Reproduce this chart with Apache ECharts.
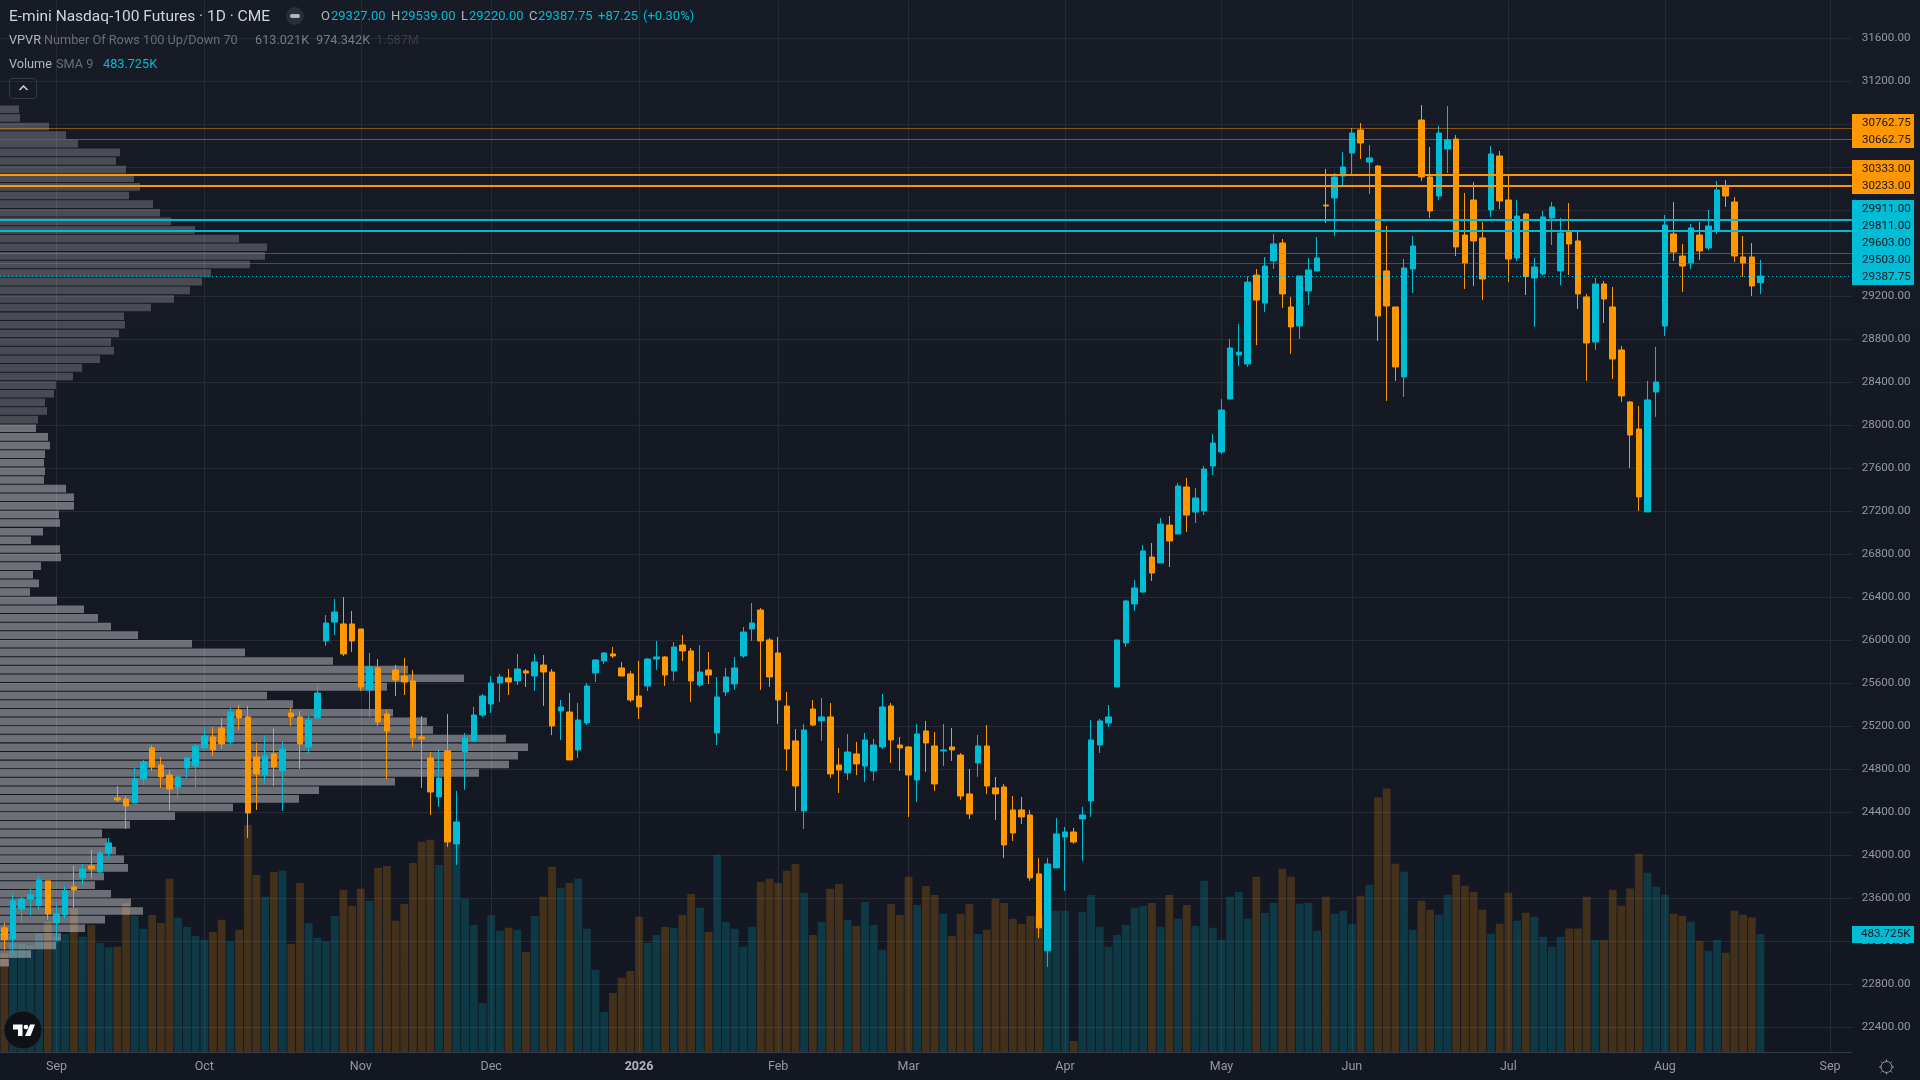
<!DOCTYPE html>
<html><head><meta charset="utf-8">
<style>html,body{margin:0;padding:0;background:#131722;overflow:hidden}#c{width:1920px;height:1080px}</style>
<script src="https://cdn.jsdelivr.net/npm/echarts@6/dist/echarts.min.js"></script>
</head><body><div id="c"></div>
<script>
const opens=[23325,23222,23501,23594,23535,23762,23371,23445,23706,23790,
23901,23845,24022,24534,24524,24487,24710,24999,24840,24747,
24636,24813,24831,24999,25101,25185,25054,25352,25287,24915,
24747,24943,24785,25324,25287,25008,25278,25994,26170,26152,
26152,26105,25538,25743,25315,25724,25668,25622,25101,24906,
24543,24971,24106,24961,25064,25305,25408,25603,25650,25622,
25715,25668,25770,25705,25343,25333,24980,25231,25696,25808,
25873,25743,25687,25482,25575,25826,25845,25715,25956,25901,
25584,25724,25138,25519,25594,25854,26105,26282,26003,25882,
25389,25064,24413,25361,25250,25287,24840,24766,24943,24831,
24785,25008,25389,25026,25008,24701,25157,25017,24971,25008,
24933,24571,24859,25017,24627,24636,24422,24422,24375,23827,
23111,23883,24171,24217,24338,24506,25026,25231,25566,25975,
26338,26449,26775,26719,27072,26989,27426,27193,27203,27621,
27751,28244,28653,28570,29397,29137,29529,29696,29101,28924,
29250,29436,30049,30115,30319,30533,30747,30449,30412,29436,
29101,28450,29454,30840,30310,30133,30570,30663,29770,30096,
29743,30003,30505,30096,29557,29966,29371,29408,29929,29436,
29808,29715,29194,28775,29315,29101,28701,28217,27966,27194,
28310,28924,29780,29575,29510,29770,29650,29817,30217,30077,29566,29566,29327];
const closes=[23216,23576,23594,23631,23771,23455,23455,23669,23678,23873,
23873,24022,24115,24515,24459,24710,24868,24822,24729,24617,
24729,24906,25017,25110,24980,25036,25333,25278,24394,24757,
24924,24822,24989,25287,25036,25259,25510,26161,26263,25873,
25994,25566,25752,25240,25157,25631,25612,25092,25082,24589,
24720,24124,24310,25092,25305,25482,25603,25659,25612,25733,
25696,25798,25705,25203,25380,24887,25259,25575,25817,25882,
25854,25668,25445,25380,25826,25845,25677,25938,25901,25622,
25705,25677,25473,25659,25743,26077,26161,25994,25659,25445,
24989,24645,25166,25212,25287,24757,24794,24961,24850,25073,
25026,25380,25073,24999,24747,25129,25045,24664,24980,24980,
24552,24385,25017,24645,24571,24096,24208,24357,23790,23325,
23920,24199,24217,24124,24375,25073,25250,25287,26003,26366,
26487,26831,26626,27082,26924,27435,27165,27324,27593,27835,
28142,28719,28681,29332,29165,29481,29687,29222,28915,29389,
29445,29557,30040,30310,30403,30719,30626,30487,29017,29110,
28543,29464,29668,30310,29994,30719,30654,29659,29510,29715,
29361,30524,30087,29547,29947,29383,29473,29938,30031,29789,
29687,29222,28766,29315,29175,28617,28273,27910,27334,28236,
28403,29863,29612,29482,29836,29622,29854,30189,30133,29575,29510,29296,29387.75];
const highs=[23371,23650,23613,23687,23808,23762,23529,23715,23901,23920,
24050,24050,24162,24645,24552,24822,24887,25026,24915,24794,
24747,24915,25036,25185,25194,25278,25371,25398,25389,25045,
25119,25185,25054,25371,25343,25296,25575,26235,26384,26403,
26273,26105,25882,25826,25352,25771,25836,25724,25296,24961,
24989,25315,24599,25138,25380,25501,25668,25687,25733,25873,
25733,25873,25863,25733,25445,25510,25417,25603,25826,25891,
25938,25798,25715,25808,25836,25994,25854,25984,26049,25929,
25956,25891,25659,25743,25845,26124,26347,26301,26022,26031,
25519,25175,25222,25445,25464,25417,24999,25129,25054,25138,
25082,25501,25417,25101,25017,25222,25250,25147,25222,25185,
24952,24803,25119,25212,24729,24664,24552,24543,24422,23976,
23976,24348,24264,24255,24450,25259,25268,25398,26003,26375,
26561,26886,26905,27138,27156,27463,27510,27417,27621,27919,
28244,28802,28942,29388,29453,29565,29780,29733,29194,29389,
29557,29752,30384,30347,30542,30766,30812,30607,30421,29854,
29101,29547,29761,30979,30589,30784,30970,30700,30161,30263,
29891,30598,30552,30319,30096,29975,29557,29994,30077,29929,
30068,29798,29222,29371,29343,29287,28738,28227,28180,28413,
28729,29956,30077,29687,29873,29891,30003,30273,30282,30124,29761,29696,29539];
const lows=[23120,23086,23374,23439,23492,23399,23204,23408,23511,23724,
23790,23836,23966,24496,24245,24487,24654,24785,24627,24422,
24524,24720,24636,24999,24924,24989,25026,25166,24162,24422,
24664,24645,24413,25203,24803,24943,25278,25947,26049,25854,
25891,25529,25287,25203,24710,25482,25491,25008,24627,24375,
24450,24078,23911,24608,25064,25287,25324,25426,25491,25584,
25566,25529,25389,25119,25073,24887,24906,25212,25612,25780,
25836,25668,25426,25268,25529,25724,25575,25622,25808,25426,
25566,25594,25026,25482,25538,25836,25994,25538,25566,25222,
24785,24413,24245,25203,25064,24720,24580,24701,24747,24682,
24692,24989,24859,24785,24357,24496,24775,24599,24831,24878,
24515,24338,24729,24571,24329,23976,24134,24292,23762,23232,
22962,23883,23669,24106,23948,24357,24952,25194,25566,25938,
26273,26440,26552,26719,26682,26989,27007,27091,27165,27537,
27733,28244,28551,28542,28746,29053,29454,29092,28664,28803,
29119,29436,29882,29761,30217,30319,30477,30152,28785,28227,
28413,28264,29231,30273,29929,30096,30347,29575,29268,29296,
29166,29938,30012,29333,29529,29212,28915,29398,29677,29305,
29398,29082,28413,28701,28952,28431,28217,27604,27204,27194,
28078,28831,29529,29240,29454,29538,29631,29780,30031,29519,29380,29203,29220];
const volumes=[405,446,443,439,487,535,473,484,589,473,
521,447,428,431,610,558,505,562,529,710,
550,513,476,460,492,542,453,501,931,726,
636,738,743,443,693,529,468,453,558,665,
599,669,620,755,763,538,607,775,862,870,
767,993,853,628,521,201,562,497,509,501,
410,558,636,759,673,693,710,505,337,164,
242,304,332,554,447,480,513,509,562,648,
591,492,808,533,505,431,513,697,710,693,
743,771,652,480,533,669,689,542,517,615,
521,419,607,562,718,603,681,644,566,476,
566,607,484,501,628,611,546,525,558,563,
754,579,579,45,574,644,513,431,480,521,
591,599,611,513,644,546,603,517,702,509,
460,636,656,546,718,570,611,751,719,608,
612,497,637,567,579,526,641,686,1043,1080,
772,739,501,620,583,563,645,727,682,657,
583,485,526,653,538,571,555,473,432,473,
506,506,637,460,460,665,600,670,813,735,
678,645,567,559,534,456,415,460,407,579,563,551,483.725];
const profileRows=[19,20,49,66,78,120,116,126,134,140,129,153,160,171,195,239,267,265,250,211,
202,190,174,151,124,125,119,111,114,100,82,73,56,54,45,47,38,36,48,50,
45,44,45,44,66,74,74,59,60,43,31,60,61,41,33,39,30,57,84,98,
111,138,192,245,333,408,464,387,267,293,393,427,433,506,528,518,509,479,395,319,
299,233,175,130,102,107,116,124,128,104,95,111,131,143,105,85,61,56,31,9];
const valueAreaStartRow=37;
const priceTicks=[22400,22800,23200,23600,24000,24400,24800,25200,25600,26000,26400,26800,27200,27600,28000,28400,28800,29200,29600,30000,30400,30800,31200,31600];
const monthIndex=[6,23,41,56,73,89,104,122,140,155,173,191,210];
const monthLabels=['Sep','Oct','Nov','Dec','2026','Feb','Mar','Apr','May','Jun','Jul','Aug','Sep'];
const thinOrange=[30762.75,30662.75], thickOrange=[30333,30233], thickCyan=[29911,29811], thinCyan=[29603,29503];
const lastClose=29387.75;
const axisBoxes=[['30762.75','o'],['30662.75','o'],['30333.00','o'],['30233.00','o'],['29911.00','c'],['29811.00','c'],['29603.00','c'],['29503.00','c'],['29387.75','c']];
const barCount=213;

const CY='#00bcd4',OR='#ff9800',FONT='Roboto,sans-serif';
const categories=Array.from({length:barCount},(_,i)=>String(i));
const candle=opens.map((o,i)=>[o,closes[i],lows[i],highs[i]]);
const volData=volumes.map((v,i)=>({value:v,itemStyle:{color:closes[i]>opens[i]?'rgba(0,188,212,0.2)':'rgba(255,152,0,0.2)'}}));
const prof=profileRows.map((v,i)=>({value:v,itemStyle:{color:i<valueAreaStartRow?'rgba(255,255,255,0.22)':'rgba(255,255,255,0.38)'}}));
const hl=(vals,color,width,type)=>vals.map(v=>({yAxis:v,lineStyle:{color,width,type:type||'solid'}}));

function txt(x,y,s,fill,size,extra){return Object.assign({type:'text',z:50,x,y,silent:true,style:{text:s,fill,font:(size||13)+'px '+FONT,textVerticalAlign:'middle',textAlign:'left'}},extra||{});}
const boxYs=[122.7,139.7,168.7,185.7,208.7,225.7,242.7,259.7,276.7];
const gfx=[];
[[114,34,OR],[160,34,OR],[200,85,CY],[926,17,CY]].forEach(b=>gfx.push({type:'rect',z:49,silent:true,shape:{x:1852,y:b[0],width:62,height:b[1]},style:{fill:b[2]}}));
axisBoxes.forEach((b,i)=>gfx.push(txt(1862,boxYs[i],b[0],'#131722',11.6)));
gfx.push(txt(1861,934.5,'483.725K','#131722',11.6));
gfx.push(txt(9,17,'E-mini Nasdaq-100 Futures · 1D · CME','#d1d4dc',15.5));
gfx.push({type:'circle',z:50,silent:true,shape:{cx:295,cy:16,r:9},style:{fill:'#2a2e39'}});
gfx.push({type:'rect',z:51,silent:true,shape:{x:290,y:14,width:10,height:4,r:2},style:{fill:'#b2b5be'}});
[[321,'O','#b2b5be'],[331,'29327.00',CY],[391,'H','#b2b5be'],[401,'29539.00',CY],[461,'L','#b2b5be'],[469,'29220.00',CY],[529,'C','#b2b5be'],[538,'29387.75',CY],[598,'+87.25',CY],[643,'(+0.30%)',CY]].forEach(a=>gfx.push(txt(a[0],17,a[1],a[2],13)));
[[9,'VPVR','#b2b5be'],[44,'Number Of Rows 100 Up/Down 70','#6a6d78'],[255,'613.021K','#787b86'],[316,'974.342K','#787b86'],[376,'1.587M','#3a3d47']].forEach(a=>gfx.push(txt(a[0],41,a[1],a[2],12.7)));
[[9,'Volume','#b2b5be'],[56,'SMA 9','#6a6d78'],[103,'483.725K',CY]].forEach(a=>gfx.push(txt(a[0],65,a[1],a[2],12.7)));
gfx.push({type:'rect',z:50,silent:true,shape:{x:9.5,y:78.5,width:27,height:20,r:3},style:{fill:'rgba(0,0,0,0)',stroke:'#363a45',lineWidth:1}});
gfx.push({type:'polyline',z:50,silent:true,shape:{points:[[19.5,90],[23.5,86],[27.5,90]]},style:{stroke:'#d1d4dc',lineWidth:1.5,fill:'none'}});
gfx.push({type:'circle',z:50,silent:true,shape:{cx:23,cy:1030,r:19},style:{fill:'#0e1118',stroke:'#2a2e39',lineWidth:1}});
gfx.push({type:'polygon',z:51,silent:true,shape:{points:[[13,1024.5],[22.5,1024.5],[22.5,1036],[18,1036],[18,1029.5],[13,1029.5]]},style:{fill:'#fff'}});
gfx.push({type:'circle',z:51,silent:true,shape:{cx:26,cy:1027,r:2.3},style:{fill:'#fff'}});
gfx.push({type:'polygon',z:51,silent:true,shape:{points:[[30,1024.5],[35,1024.5],[30.5,1036],[25,1036]]},style:{fill:'#fff'}});
gfx.push({type:'circle',z:50,silent:true,shape:{cx:1886.5,cy:1067,r:5.5},style:{fill:'none',stroke:'#9598a1',lineWidth:1}});
[[1886.5,1059.5,1886.5,1061.5],[1886.5,1072.5,1886.5,1074.5],[1879,1067,1881,1067],[1892,1067,1894,1067],[1881,1061.5,1882.4,1062.9],[1892,1061.5,1890.6,1062.9],[1881,1072.5,1882.4,1071.1],[1892,1072.5,1890.6,1071.1]].forEach(p=>gfx.push({type:'line',z:50,silent:true,shape:{x1:p[0],y1:p[1],x2:p[2],y2:p[3]},style:{stroke:'#9598a1',lineWidth:1}}));

const option={
  animation:false,
  backgroundColor:{type:'linear',x:0,y:0,x2:0,y2:1,colorStops:[{offset:0,color:'#171b26'},{offset:1,color:'#131722'}]},
  textStyle:{fontFamily:FONT},
  grid:[{left:-1.3,top:0,width:1853.1,height:1052,containLabel:false},{left:0,top:105,width:1852,height:862}],
  xAxis:[
    {type:'category',gridIndex:0,data:categories,boundaryGap:true,
     axisLine:{show:true,lineStyle:{color:'#363a45'}},axisTick:{show:false},splitLine:{show:false},
     axisLabel:{margin:8,color:'#9598a1',fontSize:12.5,fontFamily:FONT,interval:(i)=>monthIndex.includes(i),showMinLabel:true,showMaxLabel:true,hideOverlap:false,
       formatter:(v)=>{const k=monthIndex.indexOf(+v);if(k<0)return '';return monthLabels[k]==='2026'?'{b|2026}':monthLabels[k];},
       rich:{b:{fontWeight:'bold',fontSize:12.5,color:'#b2b5be',fontFamily:FONT}}}},
    {type:'value',gridIndex:1,min:0,max:1852,show:false}
  ],
  yAxis:[
    {type:'value',gridIndex:0,position:'right',min:22170.2,max:31956.3,scale:true,
     axisLine:{show:false},
     axisTick:{show:false,customValues:priceTicks},
     axisLabel:{customValues:priceTicks,inside:false,margin:10,color:'#9598a1',fontSize:11.6,fontFamily:FONT,formatter:v=>v.toFixed(2),showMinLabel:true,showMaxLabel:true},
     splitLine:{show:true,lineStyle:{color:'#262a35',width:1}}},
    {type:'value',gridIndex:0,min:0,max:4313,show:false,splitLine:{show:false}},
    {type:'category',gridIndex:1,inverse:true,show:false,data:profileRows.map((_,i)=>String(i))}
  ],
  series:[
    {type:'bar',name:'Volume',xAxisIndex:0,yAxisIndex:1,data:volData,barWidth:7.8,z:2,silent:true,
     markLine:{silent:true,symbol:'none',animation:false,label:{show:false},z:1,lineStyle:{color:'#262a35',width:1,type:'solid'},data:monthIndex.map(i=>({xAxis:i}))}},
    {type:'bar',name:'VPVR',xAxisIndex:1,yAxisIndex:2,data:prof,barWidth:7.6,z:3,silent:true},
    {type:'candlestick',name:'Price',xAxisIndex:0,yAxisIndex:0,data:candle,barWidth:6,z:4,silent:true,
     itemStyle:{color:CY,color0:OR,borderColor:CY,borderColor0:OR,borderWidth:1},
     markLine:{silent:true,symbol:'none',animation:false,label:{show:false},z:5,data:[
       ...hl(thinOrange,'rgba(255,152,0,0.48)',1),...hl(thickOrange,OR,2),...hl(thickCyan,CY,2),...hl(thinCyan,'rgba(0,188,212,0.45)',1),
       {yAxis:lastClose,lineStyle:{color:CY,width:1,type:[1,3]}}]}}
  ],
  graphic:{elements:gfx}
};
const chart=echarts.init(document.getElementById('c'),null,{width:1920,height:1080,renderer:'canvas'});
chart.setOption(option);
</script></body></html>
